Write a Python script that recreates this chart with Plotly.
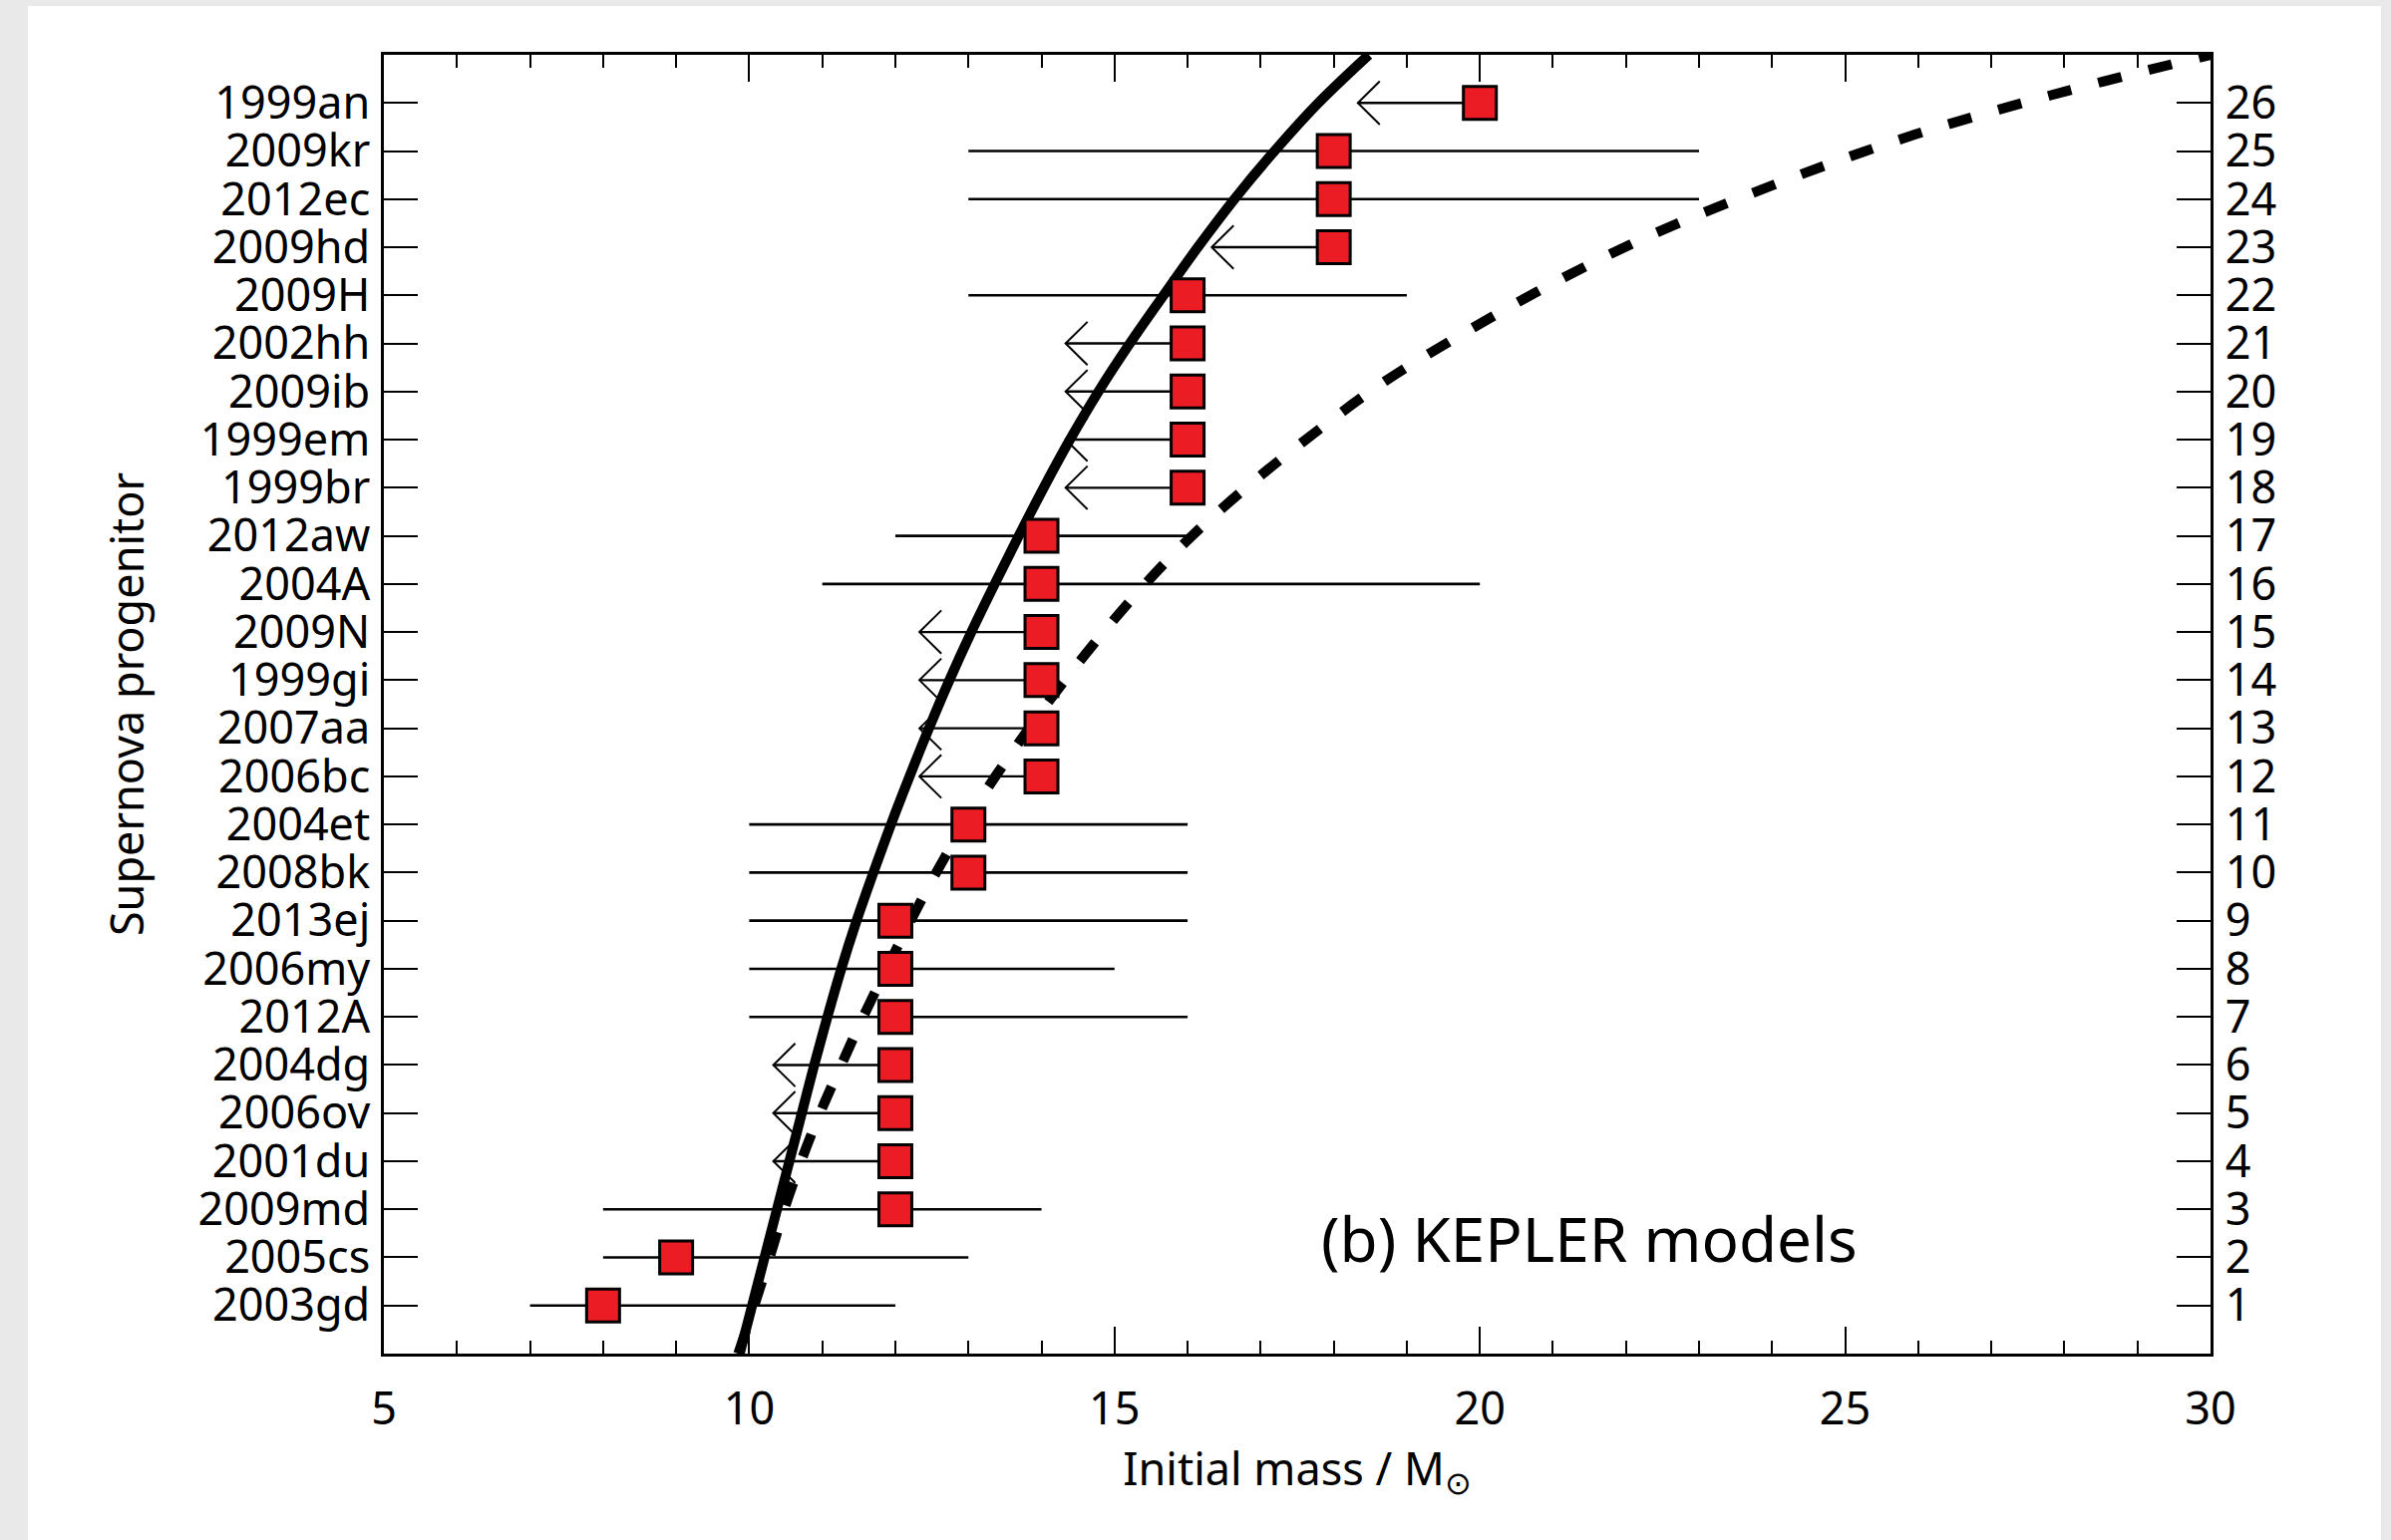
import plotly.graph_objects as go

# ---------------- data ----------------
names = ["2003gd", "2005cs", "2009md", "2001du", "2006ov", "2004dg", "2012A", "2006my",
         "2013ej", "2008bk", "2004et", "2006bc", "2007aa", "1999gi", "2009N", "2004A",
         "2012aw", "1999br", "1999em", "2009ib", "2002hh", "2009H", "2009hd", "2012ec",
         "2009kr", "1999an"]
rank = list(range(1, 27))
mass = [8, 9, 12, 12, 12, 12, 12, 12, 12, 13, 13, 14, 14, 14, 14, 14, 14,
        16, 16, 16, 16, 16, 18, 18, 18, 20]
mass_lo = [7, 8, 8, None, None, None, 10, 10, 10, 10, 10, None, None, None, None, 11, 12,
           None, None, None, None, 13, None, 13, 13, None]
mass_hi = [12, 13, 14, None, None, None, 16, 15, 16, 16, 16, None, None, None, None, 20, 16,
           None, None, None, None, 19, None, 23, 23, None]
limit_tip = [None, None, None, 10.33, 10.33, 10.33, None, None, None, None, None,
             12.33, 12.33, 12.33, 12.33, None, None, 14.33, 14.33, 14.33, 14.33, None,
             16.33, None, None, 18.33]

solid_rank = list(range(0, 28))
solid_mass = [9.87, 10.04, 10.21, 10.38, 10.55, 10.72, 10.89, 11.07, 11.26, 11.47, 11.70,
              11.94, 12.195, 12.46, 12.74, 13.04, 13.36, 13.69, 14.03, 14.39, 14.78, 15.21,
              15.67, 16.14, 16.64, 17.19, 17.79, 18.48]

dashed_rank = [0, 1, 2, 3, 4, 5, 6, 7, 8, 9, 10, 11, 12, 13, 14, 15, 16, 17, 18,
               18.92, 20.16, 21.25, 22.25, 23.17, 23.95, 24.68, 25.34, 25.92, 26.45, 27.0]
dashed_mass = [9.85, 10.07, 10.28, 10.48, 10.71, 10.97, 11.26, 11.56, 11.88, 12.21, 12.56,
               12.94, 13.37, 13.83, 14.32, 14.85, 15.42, 16.06, 16.8,
               17.55, 18.65, 19.82, 21.0, 22.22, 23.44, 24.69, 25.95, 27.24, 28.54, 30.0]

x_ticks = [5, 10, 15, 20, 25, 30]

# ---------------- style ----------------
FONT = "Noto Sans"
RED = "#EC1C24"
head_dx = 0.30   # chevron arm length along x (data units)
head_dy = 0.45   # chevron half height (rank units)

# build line segments from the data
rx, ry = [], []
for lo, hi, r in zip(mass_lo, mass_hi, rank):
    if lo is not None:
        rx += [lo, hi, None]
        ry += [r, r, None]

ax, ay, hx, hy = [], [], [], []
for m, t, r in zip(mass, limit_tip, rank):
    if t is not None:
        ax += [m, t, None]
        ay += [r, r, None]
        hx += [t + head_dx, t, t + head_dx, None]
        hy += [r + head_dy, r, r - head_dy, None]

fig = go.Figure()
fig.add_trace(go.Scatter(x=rx, y=ry, mode="lines", line=dict(color="black", width=2.6),
                         showlegend=False, hoverinfo="skip"))
fig.add_trace(go.Scatter(x=ax, y=ay, mode="lines", line=dict(color="black", width=2.4),
                         showlegend=False, hoverinfo="skip"))
fig.add_trace(go.Scatter(x=hx, y=hy, mode="lines", line=dict(color="black", width=2),
                         showlegend=False, hoverinfo="skip"))
fig.add_trace(go.Scatter(x=solid_mass, y=solid_rank, mode="lines",
                         line=dict(color="black", width=10, shape="spline", smoothing=1.0),
                         showlegend=False))
fig.add_trace(go.Scatter(x=dashed_mass, y=dashed_rank, mode="lines",
                         line=dict(color="black", width=10, dash="24px,28px",
                                   shape="spline", smoothing=1.0),
                         showlegend=False))
fig.add_trace(go.Scatter(x=mass, y=rank, mode="markers", text=names,
                         marker=dict(symbol="square", size=33, color=RED,
                                     line=dict(color="black", width=3)),
                         showlegend=False))
# invisible trace to activate right-hand axis
fig.add_trace(go.Scatter(x=[None], y=[None], yaxis="y2", showlegend=False, hoverinfo="skip"))

tickfont = dict(family=FONT, size=45, color="black")

fig.update_layout(
    width=2398, height=1545, autosize=False,
    margin=dict(l=385, r=181, t=55, b=187, pad=0),
    paper_bgcolor="#e9e9e9", plot_bgcolor="white",
    font=dict(family=FONT, color="black"),
    xaxis=dict(range=[5, 30], tickvals=x_ticks, ticktext=[str(v) for v in x_ticks],
               ticks="inside", ticklen=27, tickwidth=2, tickcolor="black",
               minor=dict(dtick=1, ticks="inside", ticklen=13, tickwidth=1.6, tickcolor="black"),
               showline=True, linewidth=2.5, linecolor="black", mirror="ticks",
               showgrid=False, zeroline=False, tickfont=tickfont, ticklabelstandoff=14,
               title=dict(text="Initial mass / M<sub>⊙</sub>", font=dict(family=FONT, size=45),
                          standoff=10)),
    yaxis=dict(range=[0, 27], tickvals=rank, ticktext=names,
               ticks="inside", ticklen=34, tickwidth=2, tickcolor="black",
               showline=True, linewidth=2.5, linecolor="black", mirror=True,
               showgrid=False, zeroline=False, tickfont=tickfont, ticklabelstandoff=2,
               title=dict(text="Supernova progenitor", font=dict(family=FONT, size=45),
                          standoff=40)),
    yaxis2=dict(range=[0, 27], tickvals=rank, ticktext=[str(r) for r in rank],
                overlaying="y", side="right", anchor="x",
                ticks="inside", ticklen=34, tickwidth=2, tickcolor="black",
                showline=True, linewidth=2.5, linecolor="black",
                showgrid=False, zeroline=False, tickfont=tickfont, ticklabelstandoff=3),
    shapes=[dict(type="rect", xref="paper", yref="paper", layer="below",
                 x0=-0.1949, x1=1.0933, y0=-0.1435, y1=1.0376,
                 fillcolor="white", line=dict(width=0))],
    annotations=[dict(text="(b) KEPLER models", x=21.5, y=2.4, xref="x", yref="y",
                      showarrow=False, font=dict(family=FONT, size=62, color="black"))],
)

fig.write_html("out.html")
